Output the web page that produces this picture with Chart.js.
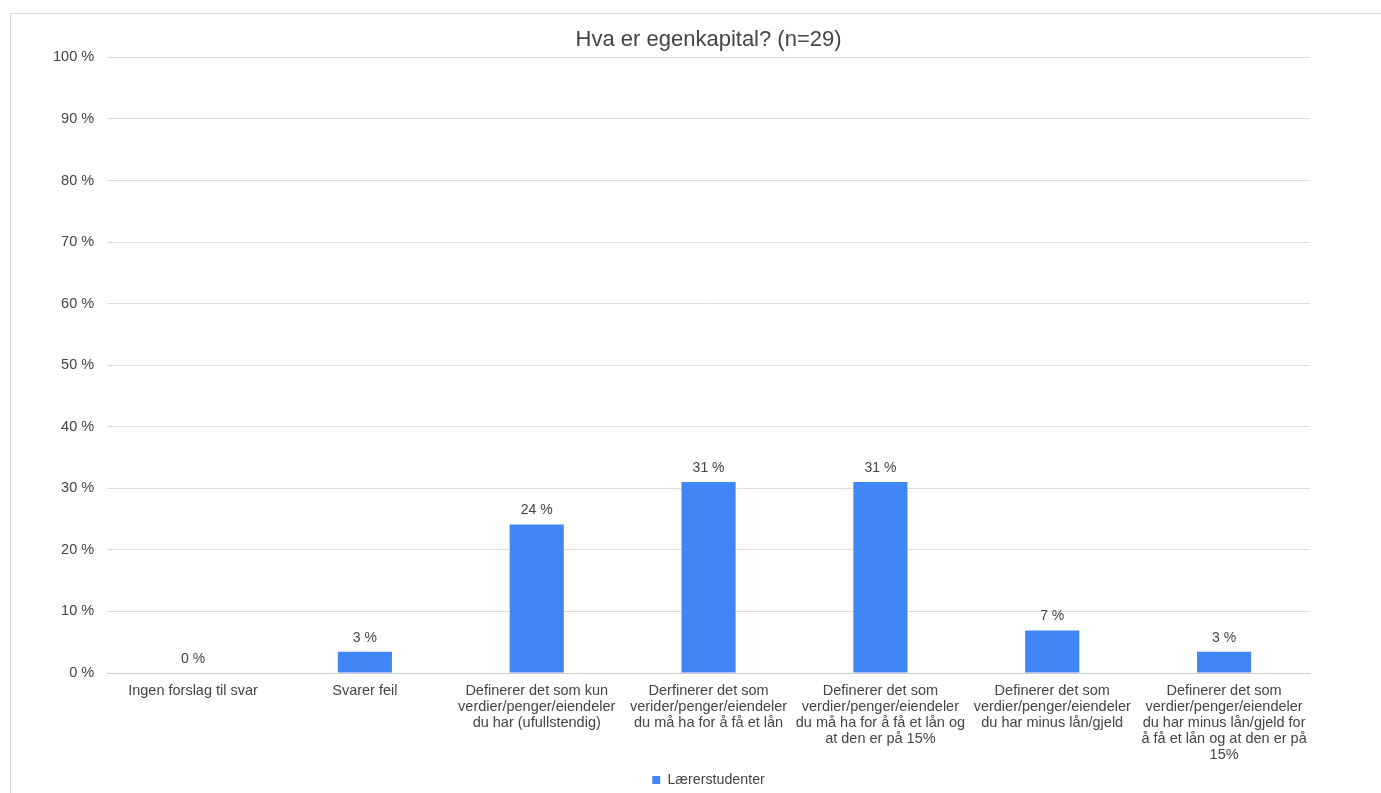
<!DOCTYPE html>
<html>
<head>
<meta charset="utf-8">
<script src="https://cdn.jsdelivr.net/npm/chart.js@4/dist/chart.umd.min.js"></script>
<style>
  html, body { margin: 0; padding: 0; background: #fff; }
  #frame { position: absolute; left: 10px; top: 13px; width: 1380px; height: 790px; border: 1px solid #d9d9d9; box-sizing: border-box; }
  #wrap { position: absolute; left: 0; top: 0; width: 1381px; height: 793px; }
</style>
</head>
<body>
<div id="frame"></div>
<div id="wrap"><canvas id="chart"></canvas></div>
<script>
// Kategorier og verdier (andel av 29 svar)
const categories = [
  ["Ingen forslag til svar"],
  ["Svarer feil"],
  ["Definerer det som kun", "verdier/penger/eiendeler", "du har (ufullstendig)"],
  ["Derfinerer det som", "verider/penger/eiendeler", "du må ha for å få et lån"],
  ["Definerer det som", "verdier/penger/eiendeler", "du må ha for å få et lån og", "at den er på 15%"],
  ["Definerer det som", "verdier/penger/eiendeler", "du har minus lån/gjeld"],
  ["Definerer det som", "verdier/penger/eiendeler", "du har minus lån/gjeld for", "å få et lån og at den er på", "15%"]
];
const seriesName = "Lærerstudenter";
const values = [0, 3.45, 24.14, 31.03, 31.03, 6.9, 3.45];
const yTicks = [0, 10, 20, 30, 40, 50, 60, 70, 80, 90, 100];

const textColor = "#444444";
const barColor = "#4285f4";
const fontFamily = "'Liberation Sans', Arial, sans-serif";

// Skriver verdien over hver stolpe
const valueLabels = {
  id: "valueLabels",
  afterDatasetsDraw(chart) {
    const ctx = chart.ctx;
    const meta = chart.getDatasetMeta(0);
    ctx.save();
    ctx.font = "14px " + fontFamily;
    ctx.fillStyle = textColor;
    ctx.textAlign = "center";
    ctx.textBaseline = "bottom";
    meta.data.forEach((bar, i) => {
      ctx.fillText(Math.round(values[i]) + " %", bar.x, bar.y - 7);
    });
    ctx.restore();
  }
};

document.addEventListener("DOMContentLoaded", () => {
  const ctx = document.getElementById("chart").getContext("2d");

  new Chart(ctx, {
    type: "bar",
    data: {
      labels: categories,
      datasets: [
        {
          label: seriesName,
          data: values,
          backgroundColor: barColor,
          borderWidth: 0,
          categoryPercentage: 1,
          barPercentage: 0.315,
        },
      ],
    },
    plugins: [valueLabels],
    options: {
      responsive: true,
      maintainAspectRatio: false,
      animation: false,
      layout: { padding: { left: 40, right: 71, top: 27, bottom: -4 } },
      plugins: {
        title: {
          display: true,
          fullSize: false,
          text: "Hva er egenkapital? (n=29)",
          color: textColor,
          font: { family: fontFamily, size: 22, weight: "normal" },
          padding: { top: 0, bottom: 4 },
        },
        legend: {
          position: "bottom",
          fullSize: false,
          labels: {
            color: textColor,
            boxWidth: 8,
            boxHeight: 8,
            padding: 0,
            font: { family: fontFamily, size: 14.25, lineHeight: 1.0 },
          },
        },
        tooltip: { enabled: false },
      },
      scales: {
        x: {
          grid: { display: false, drawTicks: false },
          border: { color: "#cccccc" },
          ticks: {
            color: textColor,
            maxRotation: 0,
            autoSkip: false,
            padding: 10,
            font: { family: fontFamily, size: 14.5, lineHeight: 1.1 },
          },
        },
        y: {
          min: 0,
          max: 100,
          afterBuildTicks(axis) {
            axis.ticks = yTicks.map((v) => ({ value: v }));
          },
          grid: { color: "#dddddd", drawTicks: false },
          border: { display: false },
          ticks: {
            color: textColor,
            padding: 13,
            callback: (v) => v + " %",
            font: { family: fontFamily, size: 14.5 },
          },
        },
      },
    },
  });
});
</script>
</body>
</html>
